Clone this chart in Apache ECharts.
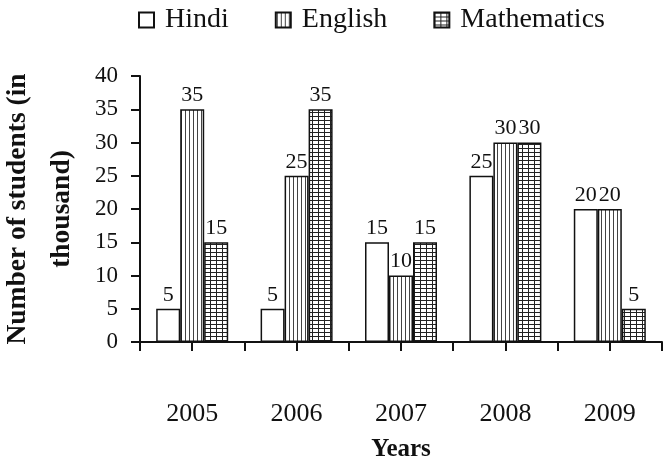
<!DOCTYPE html>
<html>
<head>
<meta charset="utf-8">
<script src="https://cdn.jsdelivr.net/npm/echarts@6/dist/echarts.min.js"></script>
<style>
  html, body { margin: 0; padding: 0; background: #fff; }
  #chart { width: 671px; height: 459px; }
</style>
</head>
<body>
<div id="chart"></div>
<script>
  var years = ['2005', '2006', '2007', '2008', '2009'];
  var hindi = [5, 5, 15, 25, 20];
  var english = [35, 25, 10, 30, 20];
  var maths = [15, 35, 15, 30, 5];
  // finer category set, only used to draw the extra ticks between years
  var halfTicks = ['', '', '', '', '', '', '', '', '', ''];

  var serif = '"Liberation Serif", "DejaVu Serif", serif';

  // hatch fills
  function stripes() {
    var c = document.createElement('canvas');
    c.width = 4; c.height = 4;
    var g = c.getContext('2d');
    g.fillStyle = '#fff'; g.fillRect(0, 0, 4, 4);
    g.fillStyle = '#444'; g.fillRect(1, 0, 1, 4);
    return c;
  }
  function grid() {
    var c = document.createElement('canvas');
    c.width = 6; c.height = 4;
    var g = c.getContext('2d');
    g.fillStyle = '#fff'; g.fillRect(0, 0, 6, 4);
    g.fillStyle = '#222';
    g.fillRect(0, 0, 1, 4);
    g.fillRect(0, 0, 6, 1);
    return c;
  }

  var chart = echarts.init(document.getElementById('chart'));

  var label = {
    show: true,
    position: 'top',
    distance: 3,
    color: '#111',
    fontFamily: serif,
    fontSize: 22
  };

  chart.setOption({
    backgroundColor: '#fff',
    animation: false,
    legend: {
      left: 133,
      top: 1,
      itemWidth: 15,
      itemHeight: 15,
      itemGap: 46,
      icon: 'rect',
      textStyle: { fontFamily: serif, fontSize: 28, color: '#111', padding: [0, 0, 0, 6] },
      data: ['Hindi', 'English', 'Mathematics']
    },
    grid: { left: 140, right: 9, top: 76, bottom: 117, outerBoundsMode: 'none' },
    xAxis: [
      {
        type: 'category',
        data: years,
        name: 'Years',
        nameLocation: 'middle',
        nameGap: 95,
        nameTextStyle: { fontFamily: serif, fontSize: 25, fontWeight: 'bold', color: '#111' },
        axisLine: { lineStyle: { color: '#111', width: 2 } },
        axisTick: { show: false },
        axisLabel: { margin: 59, fontFamily: serif, fontSize: 26, color: '#111' }
      },
      {
        type: 'category',
        data: halfTicks,
        position: 'bottom',
        axisLine: { show: false },
        axisLabel: { show: false },
        axisTick: { show: true, length: 9, lineStyle: { color: '#111', width: 2 } }
      }
    ],
    yAxis: {
      type: 'value',
      min: 0,
      max: 40,
      interval: 5,
      name: 'Number of students (in\nthousand)',
      nameLocation: 'middle',
      nameGap: 56,
      nameTextStyle: { fontFamily: serif, fontSize: 27.5, fontWeight: 'bold', color: '#111', lineHeight: 44 },
      axisLine: { show: true, lineStyle: { color: '#111', width: 2 } },
      axisTick: { show: true, length: 9, lineStyle: { color: '#111', width: 2 } },
      axisLabel: { margin: 22, fontFamily: serif, fontSize: 23, color: '#111' },
      splitLine: { show: false }
    },
    series: [
      {
        name: 'Hindi',
        type: 'bar',
        data: hindi,
        barWidth: 24,
        barGap: '0%',
        itemStyle: { color: '#fff', borderColor: '#111', borderWidth: 1.5 },
        label: label
      },
      {
        name: 'English',
        type: 'bar',
        data: english,
        barWidth: 24,
        barGap: '0%',
        itemStyle: { color: { image: stripes(), repeat: 'repeat' }, borderColor: '#111', borderWidth: 1.5 },
        label: label
      },
      {
        name: 'Mathematics',
        type: 'bar',
        data: maths,
        barWidth: 24,
        barGap: '0%',
        itemStyle: { color: { image: grid(), repeat: 'repeat' }, borderColor: '#111', borderWidth: 1.5 },
        label: label
      }
    ]
  });
</script>
</body>
</html>
